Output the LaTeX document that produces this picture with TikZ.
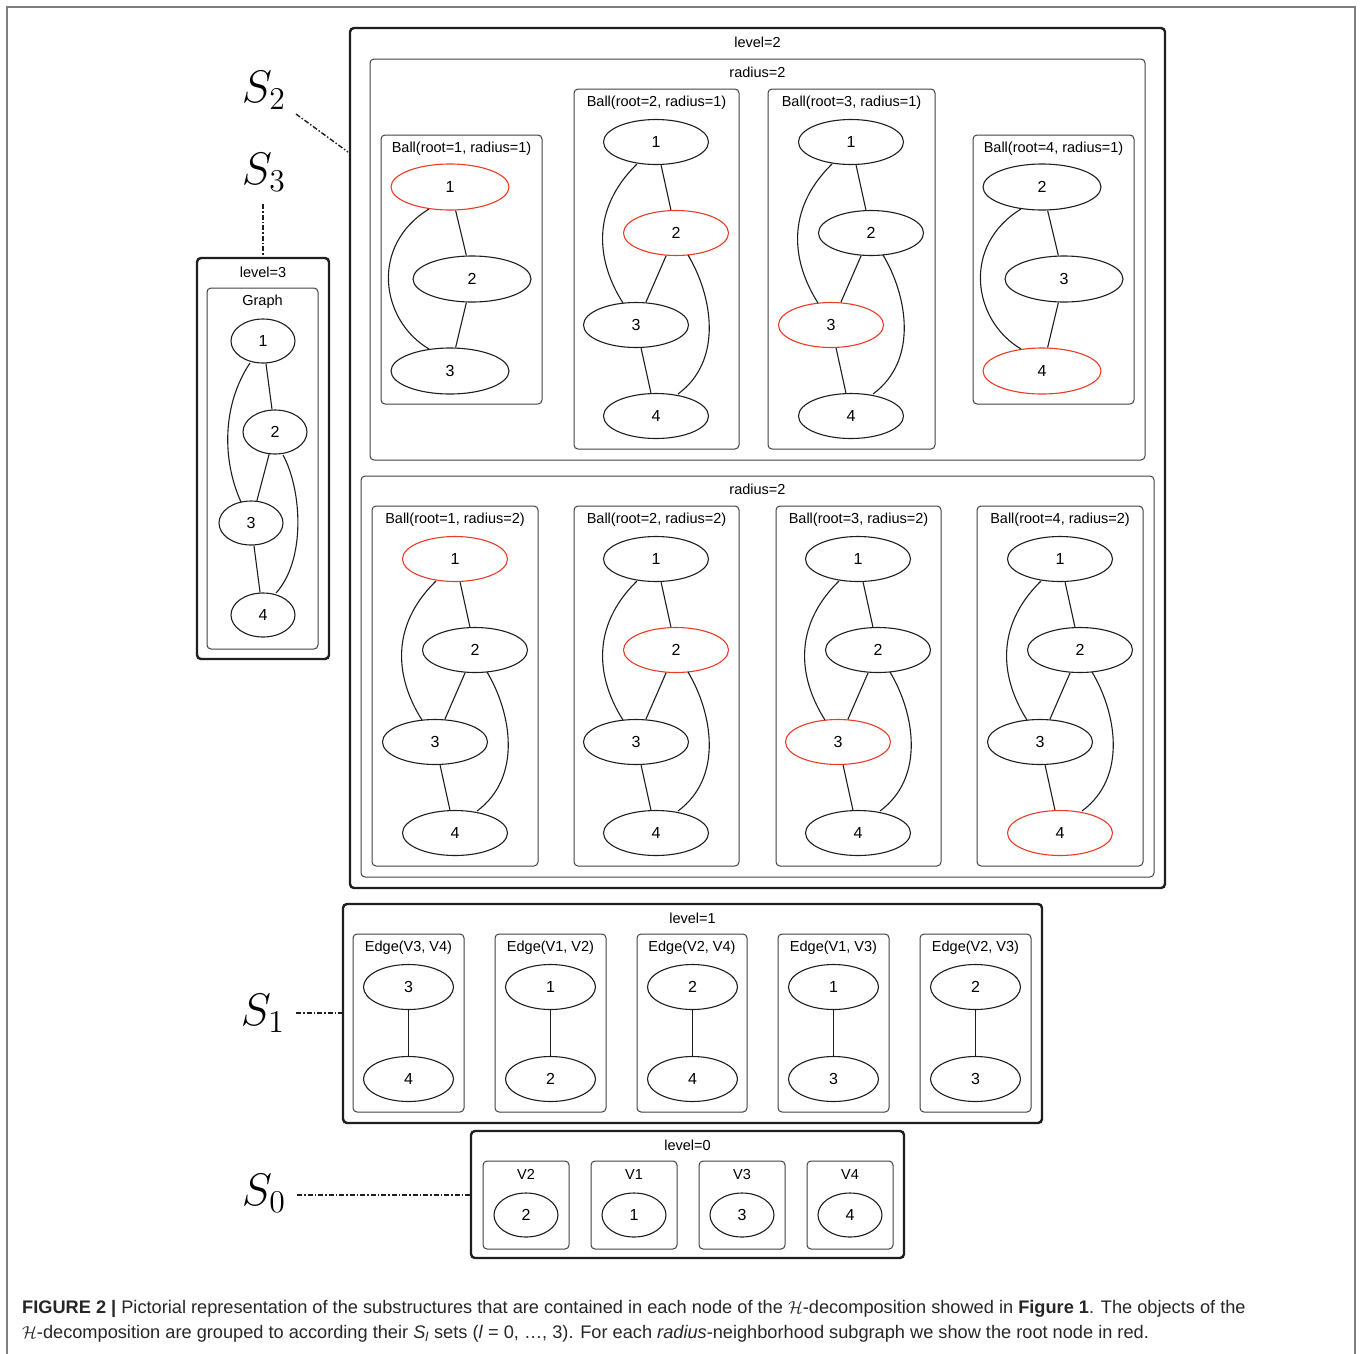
\documentclass[tikz,border=0pt]{standalone}
\usepackage{fontspec}
\setmainfont{Liberation Sans}
\usetikzlibrary{shapes.geometric,calc}

\definecolor{rootred}{HTML}{EC3A25}
\definecolor{ink}{HTML}{1E1E1E}
\definecolor{framegray}{HTML}{7F7F7F}
\definecolor{captext}{HTML}{262626}

\tikzset{
  gv/.style={font=\fontsize{14.5}{16}\selectfont},
  vtx/.style={ellipse, draw=ink, line width=1.1pt, inner sep=0pt,
    minimum width=105pt, minimum height=45pt, font=\fontsize{16}{18}\selectfont},
  wide/.style={minimum width=118pt, minimum height=46pt},
  small/.style={minimum width=64pt, minimum height=44pt},
  mid/.style={minimum width=90pt, minimum height=45pt},
  root/.style={draw=rootred},
  link/.style={draw=ink, line width=1.1pt},
  levelbox/.style={draw=ink, line width=2.4pt, rounded corners=4pt},
  clusterbox/.style={draw=ink!85, line width=1pt, rounded corners=4pt},
  title/.style={gv, inner sep=0pt, anchor=center},
  leader/.style={draw=ink, line width=1.4pt,
    dash pattern=on 5pt off 2pt on 1.5pt off 2pt},
  setlabel/.style={font=\fontsize{20.74}{24}\selectfont, inner sep=0pt},
  captionline/.style={anchor=base west, inner sep=0pt, text=captext,
    font=\fontsize{18.2}{22}\selectfont},
}

% large set symbol S_i
\newcommand\setsym[1]{\scalebox{2.2}{$S_{#1}$}}

% rounded cluster frame with its caption: name, x1, y1, x2, y2, text
\newcommand\cluster[6]{%
  \draw[clusterbox] (#2,#3) rectangle (#4,#5);
  \node[title] (#1) at ({(#2+#4)/2},#3+13.5) {#6};
}
% framed level with its caption: name, x1, y1, x2, y2, text
\newcommand\levelframe[6]{%
  \draw[levelbox] (#2,#3) rectangle (#4,#5);
  \node[title] (#1) at ({(#2+#4)/2},#3+14) {#6};
}
% four-vertex graph 1..4: name, x of vertex 1, y of vertex 1, styles of vertices 1..4
\newcommand\fourball[7]{%
  \node[vtx,#4] (#1a) at (#2,#3) {1};
  \node[vtx,#5] (#1b) at (#2+20,#3+91) {2};
  \node[vtx,#6] (#1c) at (#2-20,#3+183) {3};
  \node[vtx,#7] (#1d) at (#2,#3+274) {4};
  \draw[link] (#1a) -- (#1b);
  \draw[link] (#1b) -- (#1c);
  \draw[link] (#1c) -- (#1d);
  \draw[link] ($(#1a)+(-19,22)$) .. controls ($(#1a)+(-66,68)$) and ($(#1c)+(-39,-63)$) .. ($(#1c)+(-13,-22)$);
  \draw[link] ($(#1b)+(12,22)$) .. controls ($(#1b)+(36,62)$) and ($(#1d)+(68,-56)$) .. ($(#1d)+(22,-22)$);
}
% three-vertex graph: name, x, y of top vertex, three labels, three styles
\newcommand\threeball[9]{%
  \node[vtx,wide,#7] (#1a) at (#2,#3) {#4};
  \node[vtx,wide,#8] (#1b) at (#2+22,#3+92) {#5};
  \node[vtx,wide,#9] (#1c) at (#2,#3+184) {#6};
  \draw[link] (#1a) -- (#1b);
  \draw[link] (#1b) -- (#1c);
  \draw[link] ($(#1a)+(-21,22)$) .. controls ($(#1a)+(-80,58)$) and ($(#1c)+(-70,-51)$) .. ($(#1c)+(-21,-22)$);
}
% single edge: name, x, two labels
\newcommand\edgepair[4]{%
  \node[vtx,mid] (#1a) at (#2,987) {#3};
  \node[vtx,mid] (#1b) at (#2,1079) {#4};
  \draw[link] (#1a) -- (#1b);
}

\begin{document}
\begin{tikzpicture}[x=1pt, y=-1pt]
\useasboundingbox (0,0) rectangle (1361,1353);

% page frame
\draw[framegray, line width=2pt] (7,1360) -- (7,7) -- (1355,7) -- (1355,1360);

% ---------------- level 2 ----------------
\levelframe{lvtwo}{350}{28}{1165}{888}{level=2}
\cluster{radone}{370}{59}{1145}{460}{radius=2}
\cluster{radtwo}{361}{476}{1154}{877}{radius=2}

\cluster{ubat}{381}{135}{542}{404}{Ball(root=1, radius=1)}
\threeball{ua}{450}{187}{1}{2}{3}{root}{}{}
\cluster{ubbt}{574}{89}{739}{449}{Ball(root=2, radius=1)}
\fourball{ub}{656}{142}{}{root}{}{}
\cluster{ubct}{768}{89}{935}{449}{Ball(root=3, radius=1)}
\fourball{uc}{851}{142}{}{}{root}{}
\cluster{ubdt}{973}{135}{1134}{404}{Ball(root=4, radius=1)}
\threeball{ud}{1042}{187}{2}{3}{4}{}{}{root}

\cluster{lbat}{372}{506}{538}{866}{Ball(root=1, radius=2)}
\fourball{la}{455}{559}{root}{}{}{}
\cluster{lbbt}{574}{506}{739}{866}{Ball(root=2, radius=2)}
\fourball{lb}{656}{559}{}{root}{}{}
\cluster{lbct}{776}{506}{941}{866}{Ball(root=3, radius=2)}
\fourball{lc}{858}{559}{}{}{root}{}
\cluster{lbdt}{977}{506}{1143}{866}{Ball(root=4, radius=2)}
\fourball{ld}{1060}{559}{}{}{}{root}

% ---------------- level 3 ----------------
\levelframe{lvthree}{197}{258}{329}{659}{level=3}
\cluster{graph}{207}{288}{318}{649}{Graph}
\node[vtx,small] (g1) at (263,341) {1};
\node[vtx,small] (g2) at (275,432) {2};
\node[vtx,small] (g3) at (251,523) {3};
\node[vtx,small] (g4) at (263,615) {4};
\draw[link] (g1) -- (g2);
\draw[link] (g2) -- (g3);
\draw[link] (g3) -- (g4);
\draw[link] ($(g1)+(-13,22)$) .. controls ($(g1)+(-41,64)$) and ($(g3)+(-29,-63)$) .. ($(g3)+(-10,-21)$);
\draw[link] ($(g2)+(8,23)$) .. controls ($(g2)+(27,58)$) and ($(g4)+(43,-55)$) .. ($(g4)+(13,-22)$);

% ---------------- level 1 ----------------
\levelframe{lvone}{343}{904}{1042}{1123}{level=1}
\cluster{ea}{353}{934}{464}{1112}{Edge(V3, V4)}
\edgepair{ea}{408.5}{3}{4}
\cluster{eb}{495}{934}{606}{1112}{Edge(V1, V2)}
\edgepair{eb}{550.5}{1}{2}
\cluster{ec}{637}{934}{747}{1112}{Edge(V2, V4)}
\edgepair{ec}{692.5}{2}{4}
\cluster{ed}{778}{934}{889}{1112}{Edge(V1, V3)}
\edgepair{ed}{833.5}{1}{3}
\cluster{ee}{920}{934}{1031}{1112}{Edge(V2, V3)}
\edgepair{ee}{975.5}{2}{3}

% ---------------- level 0 ----------------
\levelframe{lvzero}{471}{1131}{904}{1258}{level=0}
\cluster{va}{483}{1161}{569}{1249}{V2}
\node[vtx,small] (vna) at (526,1215) {2};
\cluster{vb}{591}{1161}{677}{1249}{V1}
\node[vtx,small] (vnb) at (634,1215) {1};
\cluster{vc}{699}{1161}{785}{1249}{V3}
\node[vtx,small] (vnc) at (742,1215) {3};
\cluster{vd}{807}{1161}{893}{1249}{V4}
\node[vtx,small] (vnd) at (850,1215) {4};

% ---------------- set labels and leaders ----------------
\node[setlabel] (stwo) at (264,90) {\setsym{2}};
\node[setlabel] (sthree) at (264,172) {\setsym{3}};
\node[setlabel] (sone) at (263,1013) {\setsym{1}};
\node[setlabel] (szero) at (264,1193) {\setsym{0}};

\coordinate (stwoend) at (348,152);
\coordinate (sthreeend) at (263,256);
\coordinate (soneend) at (342,1013);
\coordinate (szeroend) at (470,1195);
\draw[leader] (296,114) -- (stwoend);
\draw[leader] (263,204) -- (sthreeend);
\draw[leader] (296,1013) -- (soneend);
\draw[leader] (297,1195) -- (szeroend);

% ---------------- caption ----------------
\node[captionline] (capa) at (22,1313) {\textbf{FIGURE 2 |} Pictorial representation of the substructures that are contained in each node of the $\mathcal{H}$-decomposition showed in \textbf{Figure 1}. The objects of the};
\node[captionline] (capb) at (22,1338) {$\mathcal{H}$-decomposition are grouped to according their \textit{S}\textsubscript{\textit{l}} sets (\textit{l} = 0, \dots, 3). For each \textit{radius}-neighborhood subgraph we show the root node in red.};
\end{tikzpicture}
\end{document}
